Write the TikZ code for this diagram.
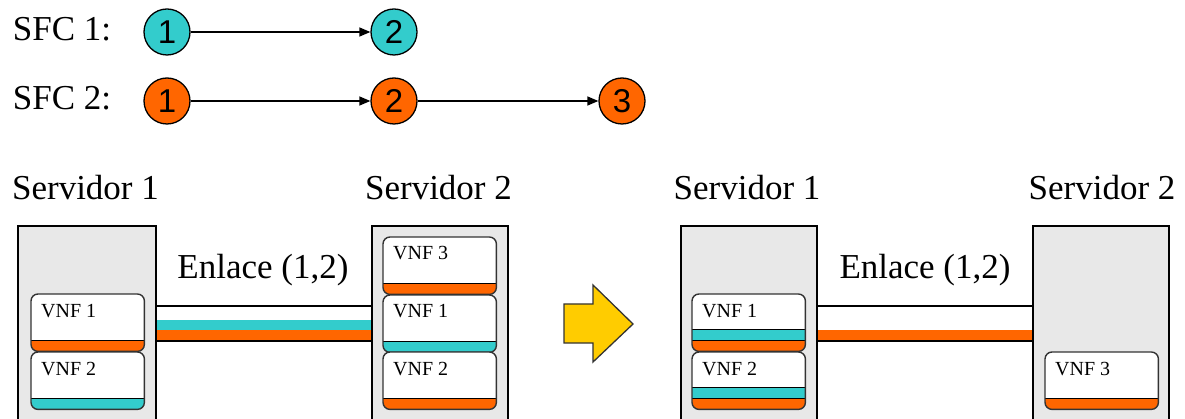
\documentclass[tikz,border=0pt]{standalone}
\usepackage{fontspec}
\setmainfont{Liberation Serif}
\newfontfamily\arialf{Liberation Sans}
\usetikzlibrary{arrows.meta,calc}
\definecolor{cyanc}{HTML}{33CCCC}
\definecolor{orangec}{HTML}{FF6600}
\definecolor{srvgray}{HTML}{E8E8E8}
\definecolor{goldc}{HTML}{FFCC00}
\newcommand{\vnf}[3]{%
  \node[vnfbox, anchor=north west] (#1) at (#2,#3) {};}
\newcommand{\stripe}[3]{%
  \begin{scope}
    \clip[rounded corners=7pt] (#1.north west) rectangle (#1.south east);
    \fill[#3] ($(#1.south west)+(0,-11*#2)$) rectangle ($(#1.south east)+(0,-11*#2+11)$);
    \draw[sepline] ($(#1.south west)+(0,-11*#2)$) -- ($(#1.south east)+(0,-11*#2)$);
  \end{scope}}
\newcommand{\vnfdone}[2]{%
  \draw[vnfline] (#1.north west) rectangle (#1.south east);
  \node[vnflabel] (#1-t) at ($(#1.north west)+(10,23)$) {#2};}
\begin{document}
\begin{tikzpicture}[x=1pt,y=-1pt,
  big/.style={font=\fontsize{35}{40}\selectfont, inner sep=0pt},
  circ/.style={circle, draw=black, line width=1.3pt, minimum size=46pt, inner sep=0pt,
    font={\fontsize{33}{36}\selectfont\arialf}},
  flow/.style={line width=1.3pt, -{Triangle[length=11pt,width=9pt]}},
  server/.style={draw=black, fill=srvgray, line width=2.2pt, minimum height=204pt, inner sep=0pt},
  vnfbox/.style={fill=white, rounded corners=7pt, minimum width=113pt, minimum height=57pt, inner sep=0pt},
  vnfline/.style={draw=black!80, line width=1.4pt, rounded corners=7pt},
  vnflabel/.style={font=\fontsize{20}{23}\selectfont, inner sep=0pt, anchor=base west},
  sepline/.style={black, line width=1.4pt},
  thinlink/.style={black, line width=2pt},
  thicklink/.style={black, line width=2.6pt},
]
\useasboundingbox (0,0) rectangle (1185,419);
\clip (0,0) rectangle (1185,419);

% ---- SFC chains ----
\node[big, anchor=base west] (sfc1) at (12.7,41) {SFC 1:};
\node[big, anchor=base west] (sfc2) at (12.7,110) {SFC 2:};
\node[circ, fill=cyanc] (a1) at (167,32) {1};
\node[circ, fill=cyanc] (a2) at (394,32) {2};
\node[circ, fill=orangec] (b1) at (167,101) {1};
\node[circ, fill=orangec] (b2) at (394,101) {2};
\node[circ, fill=orangec] (b3) at (622,101) {3};
\draw[flow] (a1) -- (a2);
\draw[flow] (b1) -- (b2);
\draw[flow] (b2) -- (b3);

% ---- left scenario ----
\node[big, anchor=base] (l1) at (85.5,200) {Servidor 1};
\node[big, anchor=base] (l2) at (438.5,200) {Servidor 2};
\node[server, minimum width=138pt] (s1) at (87,328) {};
\node[server, minimum width=136pt] (s2) at (440,328) {};
\node[big, anchor=base] (e1) at (263,279) {Enlace (1,2)};
\fill[cyanc] (s1.east |- 0,320) rectangle (s2.west |- 0,330);
\fill[orangec] (s1.east |- 0,330) rectangle (s2.west |- 0,340);
\draw[thinlink] (s1.east |- 0,306) -- (s2.west |- 0,306);
\draw[thicklink] (s1.east |- 0,341) -- (s2.west |- 0,341);

\vnf{v11}{31}{294}
\stripe{v11}{1}{orangec}
\vnfdone{v11}{VNF 1}
\vnf{v12}{31}{352}
\stripe{v12}{1}{cyanc}
\vnfdone{v12}{VNF 2}

\vnf{v23}{383}{237}
\stripe{v23}{1}{orangec}
\vnfdone{v23}{VNF 3}
\vnf{v21}{383}{295}
\stripe{v21}{1}{cyanc}
\vnfdone{v21}{VNF 1}
\vnf{v22}{383}{352}
\stripe{v22}{1}{orangec}
\vnfdone{v22}{VNF 2}

% ---- transition arrow ----
\draw[fill=goldc, draw=black!80, line width=1.3pt, line join=miter]
  (564,304) -- (593,304) -- (593,285) -- (633,324) -- (593,362) -- (593,343) -- (564,343) -- cycle;

% ---- right scenario ----
\node[big, anchor=base] (l3) at (747,200) {Servidor 1};
\node[big, anchor=base] (l4) at (1102,200) {Servidor 2};
\node[server, minimum width=136pt] (s3) at (749,328) {};
\node[server, minimum width=136pt] (s4) at (1101,328) {};
\node[big, anchor=base] (e2) at (925,279) {Enlace (1,2)};
\fill[orangec] (s3.east |- 0,330) rectangle (s4.west |- 0,340);
\draw[thinlink] (s3.east |- 0,306) -- (s4.west |- 0,306);
\draw[thicklink] (s3.east |- 0,341) -- (s4.west |- 0,341);

\vnf{v31}{692}{294}
\stripe{v31}{1}{orangec}
\stripe{v31}{2}{cyanc}
\vnfdone{v31}{VNF 1}
\vnf{v32}{692}{352}
\stripe{v32}{1}{orangec}
\stripe{v32}{2}{cyanc}
\vnfdone{v32}{VNF 2}

\vnf{v43}{1045}{352}
\stripe{v43}{1}{orangec}
\vnfdone{v43}{VNF 3}
\end{tikzpicture}
\end{document}
